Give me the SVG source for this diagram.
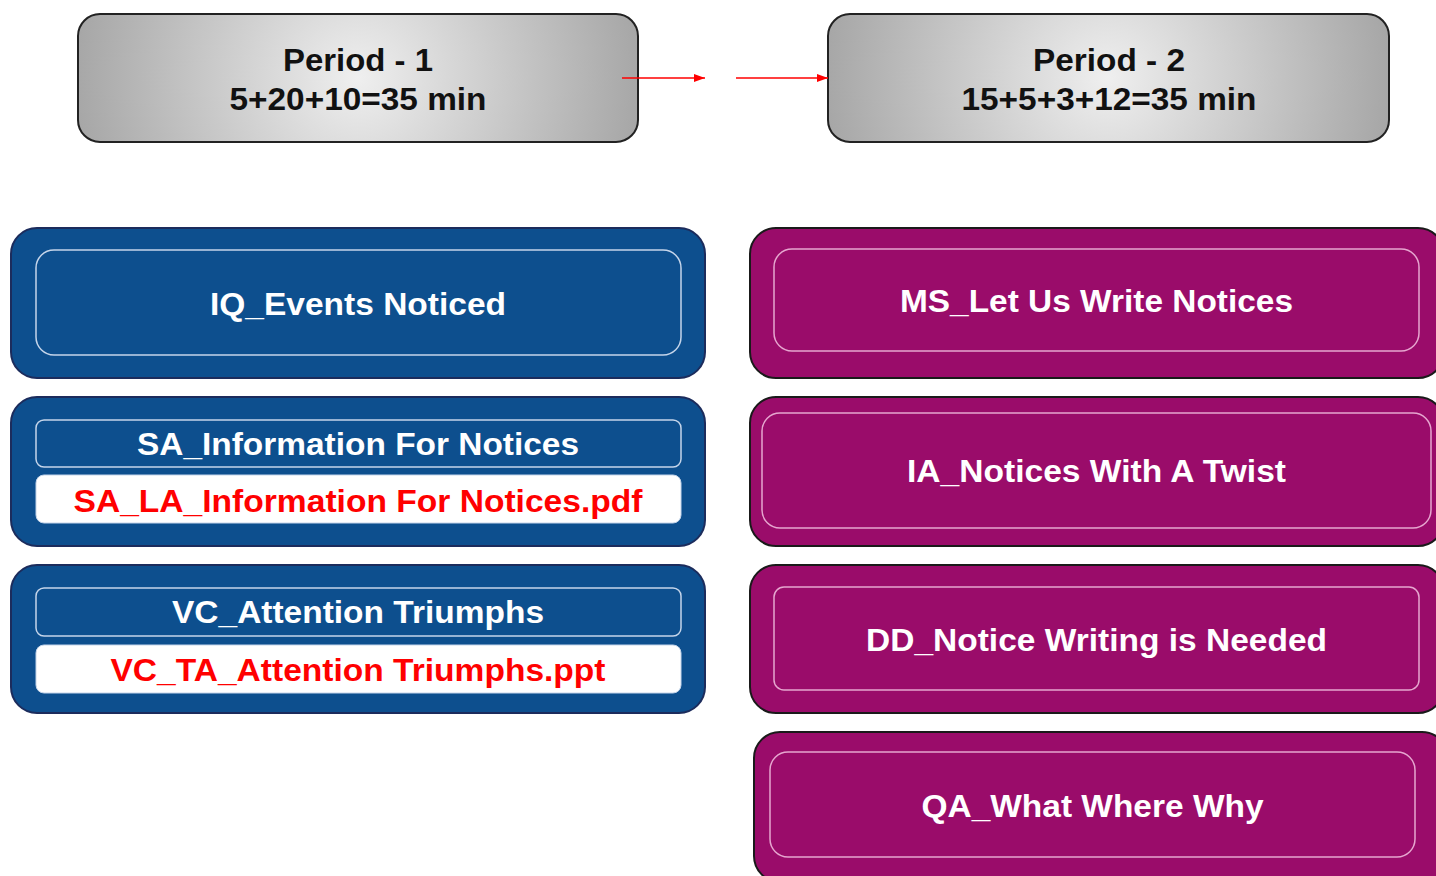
<svg xmlns="http://www.w3.org/2000/svg" width="1436" height="876" viewBox="0 0 1436 876">
<style>
text{font-family:"Liberation Sans",Arial,sans-serif;font-weight:bold;font-size:32px;text-anchor:middle}
.dark{fill:#111}
.wt{fill:#ffffff}
.rd{fill:#ff0000}
.blue{fill:#0d4f8e;stroke:#1c2c5c;stroke-width:2}
.purp{fill:#9a0c6a;stroke:#1a1a1a;stroke-width:2}
.binner{fill:none;stroke:#c5d5ea;stroke-width:1.5}
.pinner{fill:none;stroke:#e6a6cf;stroke-width:1.5}
.white{fill:#ffffff;stroke:#c5d5ea;stroke-width:1}
.per{stroke:#222;stroke-width:2}
.conn{stroke:#ff0000;stroke-width:1.5;fill:none}
</style>
<defs>
<radialGradient id="g1" gradientUnits="userSpaceOnUse" cx="358" cy="78" r="285">
<stop offset="0" stop-color="#efefef"/>
<stop offset="1" stop-color="#a6a6a6"/>
</radialGradient>
<radialGradient id="g2" gradientUnits="userSpaceOnUse" cx="1108" cy="78" r="285">
<stop offset="0" stop-color="#efefef"/>
<stop offset="1" stop-color="#a6a6a6"/>
</radialGradient>
<marker id="ah" viewBox="0 0 10 10" refX="10" refY="5" markerWidth="11" markerHeight="8" markerUnits="userSpaceOnUse" orient="auto" preserveAspectRatio="none">
<path d="M0,0 L10,5 L0,10 z" fill="#ff0000"/>
</marker>
</defs>

<g id="period1">
<rect class="per" x="78" y="14" width="560" height="128" rx="22" fill="url(#g1)"/>
<text class="dark" x="358" y="71" textLength="150" lengthAdjust="spacingAndGlyphs">Period - 1</text>
<text class="dark" x="358" y="110" textLength="257" lengthAdjust="spacingAndGlyphs">5+20+10=35 min</text>
</g>
<g id="period2">
<rect class="per" x="828" y="14" width="561" height="128" rx="22" fill="url(#g2)"/>
<text class="dark" x="1109" y="71" textLength="152" lengthAdjust="spacingAndGlyphs">Period - 2</text>
<text class="dark" x="1109" y="110" textLength="295" lengthAdjust="spacingAndGlyphs">15+5+3+12=35 min</text>
</g>

<g id="connectors">
<line class="conn" x1="622" y1="78" x2="705" y2="78" marker-end="url(#ah)"/>
<line class="conn" x1="736" y1="78" x2="828" y2="78" marker-end="url(#ah)"/>
</g>

<g id="iq">
<rect class="blue" x="11" y="228" width="694" height="150" rx="26"/>
<rect class="binner" x="36" y="250" width="645" height="105" rx="18"/>
<text class="wt" x="358" y="315" textLength="296" lengthAdjust="spacingAndGlyphs">IQ_Events Noticed</text>
</g>
<g id="sa">
<rect class="blue" x="11" y="397" width="694" height="149" rx="26"/>
<rect class="binner" x="36" y="420" width="645" height="47" rx="8"/>
<text class="wt" x="358" y="455" textLength="442" lengthAdjust="spacingAndGlyphs">SA_Information For Notices</text>
<rect class="white" x="36" y="475" width="645" height="48" rx="8"/>
<text class="rd" x="358" y="512" textLength="569" lengthAdjust="spacingAndGlyphs">SA_LA_Information For Notices.pdf</text>
</g>
<g id="vc">
<rect class="blue" x="11" y="565" width="694" height="148" rx="26"/>
<rect class="binner" x="36" y="588" width="645" height="48" rx="8"/>
<text class="wt" x="358" y="623" textLength="372" lengthAdjust="spacingAndGlyphs">VC_Attention Triumphs</text>
<rect class="white" x="36" y="645" width="645" height="48" rx="8"/>
<text class="rd" x="358" y="681" textLength="495" lengthAdjust="spacingAndGlyphs">VC_TA_Attention Triumphs.ppt</text>
</g>

<g id="ms">
<rect class="purp" x="750" y="228" width="694" height="150" rx="26"/>
<rect class="pinner" x="774" y="249" width="645" height="102" rx="18"/>
<text class="wt" x="1096.5" y="312" textLength="393" lengthAdjust="spacingAndGlyphs">MS_Let Us Write Notices</text>
</g>
<g id="ia">
<rect class="purp" x="750" y="397" width="694" height="149" rx="26"/>
<rect class="pinner" x="762" y="413" width="669" height="115" rx="18"/>
<text class="wt" x="1096.5" y="482" textLength="379" lengthAdjust="spacingAndGlyphs">IA_Notices With A Twist</text>
</g>
<g id="dd">
<rect class="purp" x="750" y="565" width="694" height="148" rx="26"/>
<rect class="pinner" x="774" y="587" width="645" height="103" rx="10"/>
<text class="wt" x="1096.5" y="651" textLength="461" lengthAdjust="spacingAndGlyphs">DD_Notice Writing is Needed</text>
</g>
<g id="qa">
<rect class="purp" x="754" y="732" width="694" height="150" rx="26"/>
<rect class="pinner" x="770" y="752" width="645" height="105" rx="18"/>
<text class="wt" x="1092.5" y="817" textLength="342" lengthAdjust="spacingAndGlyphs">QA_What Where Why</text>
</g>
</svg>
